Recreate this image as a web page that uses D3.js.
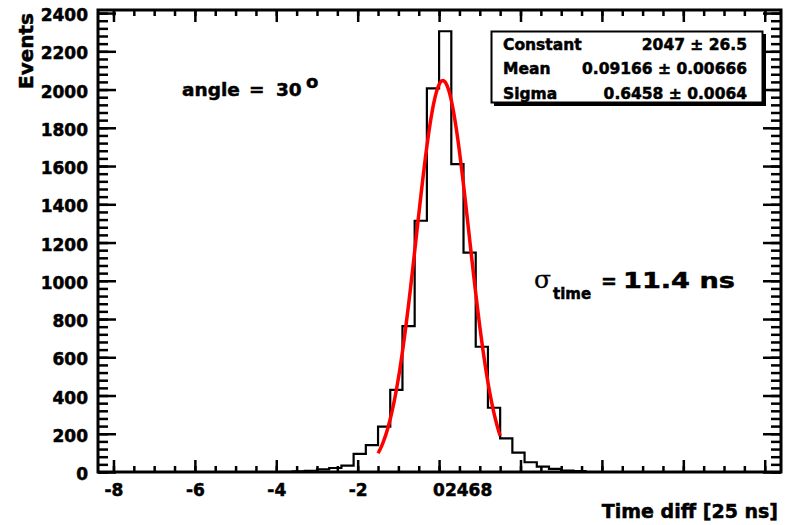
<!DOCTYPE html>
<html>
<head>
<meta charset="utf-8">
<script src="https://cdn.jsdelivr.net/npm/d3@7"></script>
<style>
body { margin: 0; background: #fff; }
svg text { font-family: "DejaVu Sans", sans-serif; font-weight: bold; fill: #000; stroke: #000; stroke-width: 0.5px; }
</style>
</head>
<body>
<script>
// histogram: bins of 0.3 starting at -3.9
var binStart = -3.9, binWidth = 0.3;
var counts = [1, 3, 6, 14, 21, 33, 95, 141, 237, 429, 763, 1314, 2006, 2305,
              1610, 1147, 655, 336, 176, 101, 51, 28, 16, 7, 5];

var xMajor = [-8, -6, -4, -2, 0, 2, 4, 6, 8];
var xMinor = d3.range(-8, 8.01, 0.5);
var yMajor = [0, 200, 400, 600, 800, 1000, 1200, 1400, 1600, 1800, 2000, 2200, 2400];
var yMinor = d3.range(0, 2401, 40);

// gaus fit, values from the stat box
var fitNames = ["Constant", "Mean", "Sigma"];
var fitValues = [2047, 0.09166, 0.6458];
var fitLabels = ["2047", "0.09166", "0.6458"];
var fitErrors = ["26.5", "0.00666", "0.0064"];
var fitRange = [-1.5, 1.5];

var main = function() {
  var width = 791, height = 525;
  var svg = d3.select("body").append("svg")
    .attr("width", width)
    .attr("height", height);

  var x = d3.scaleLinear().domain([-8.38, 8.4]).range([98, 781]);
  var y = d3.scaleLinear().domain([0, 2416]).range([472, 10]);

  var styleAxis = function(g, size) {
    g.attr("font-family", null).attr("font-size", size);
    g.select(".domain").remove();
    g.selectAll("line").attr("stroke-width", 2.5);
  }

  // minor ticks on all four sides
  svg.append("g").attr("transform", "translate(98,0)")
    .call(d3.axisLeft(y).tickValues(yMinor).tickSize(-10).tickFormat(""))
    .call(styleAxis, 17);
  svg.append("g").attr("transform", "translate(781,0)")
    .call(d3.axisRight(y).tickValues(yMinor).tickSize(-10).tickFormat(""))
    .call(styleAxis, 17);
  svg.append("g").attr("transform", "translate(0,472)")
    .call(d3.axisBottom(x).tickValues(xMinor).tickSize(-6).tickFormat(""))
    .call(styleAxis, 17);
  svg.append("g").attr("transform", "translate(0,10)")
    .call(d3.axisTop(x).tickValues(xMinor).tickSize(-6).tickFormat(""))
    .call(styleAxis, 17);

  // major ticks
  var yAxis = svg.append("g").attr("transform", "translate(98,0)")
    .call(d3.axisLeft(y).tickValues(yMajor).tickSize(-18).tickPadding(10)
      .tickFormat(function(d) { return String(d); }))
    .call(styleAxis, 17);
  yAxis.selectAll("text").attr("dy", "0.45em");

  svg.append("g").attr("transform", "translate(781,0)")
    .call(d3.axisRight(y).tickValues(yMajor).tickSize(-18).tickFormat(""))
    .call(styleAxis, 17);

  svg.append("g").attr("transform", "translate(0,472)")
    .call(d3.axisBottom(x).tickValues(xMajor).tickSize(-12).tickPadding(12)
      .tickFormat(function(d) { return d < 0 ? String(d) : ""; }))
    .call(styleAxis, 17);

  svg.append("g").attr("transform", "translate(0,10)")
    .call(d3.axisTop(x).tickValues(xMajor).tickSize(-12).tickFormat(""))
    .call(styleAxis, 17);

  // positive labels come out squashed together in the original
  svg.append("text")
    .attr("x", x(0) - 6)
    .attr("y", 496)
    .attr("font-size", 17)
    .text(xMajor.filter(function(d) { return d >= 0; }).join(""));

  // frame
  svg.append("rect")
    .attr("x", x.range()[0]).attr("y", y.range()[1])
    .attr("width", x.range()[1] - x.range()[0])
    .attr("height", y.range()[0] - y.range()[1])
    .attr("fill", "none").attr("stroke", "#000").attr("stroke-width", 3);

  // histogram outline
  var pts = [[x(binStart), y(0)]];
  counts.forEach(function(c, i) {
    var x0 = binStart + i * binWidth, x1 = x0 + binWidth;
    pts.push([x(x0), y(c)]);
    pts.push([x(x1), y(c)]);
  });
  pts.push([x(binStart + counts.length * binWidth), y(0)]);
  svg.append("path")
    .attr("d", d3.line()(pts))
    .attr("fill", "none").attr("stroke", "#000").attr("stroke-width", 2.2);

  // fitted gaussian
  var gaus = function(v) {
    var t = (v - fitValues[1]) / fitValues[2];
    return fitValues[0] * Math.exp(-0.5 * t * t);
  }
  var fx = d3.range(fitRange[0], fitRange[1] + 0.001, 0.02);
  svg.append("path")
    .datum(fx)
    .attr("d", d3.line().x(function(d) { return x(d); }).y(function(d) { return y(gaus(d)); }))
    .attr("fill", "none").attr("stroke", "#ff0000").attr("stroke-width", 3.5);

  // stat box
  svg.append("rect").attr("x", 494).attr("y", 34).attr("width", 272).attr("height", 72).attr("fill", "#000");
  svg.append("rect").attr("x", 491.5).attr("y", 31.5).attr("width", 271).attr("height", 71)
    .attr("fill", "#fff").attr("stroke", "#000").attr("stroke-width", 2);
  fitNames.forEach(function(n, i) {
    var by = 50 + i * 24.3;
    svg.append("text").attr("x", 503).attr("y", by).attr("font-size", 15.5).text(n);
    svg.append("text").attr("x", 747).attr("y", by).attr("font-size", 15.5)
      .attr("text-anchor", "end").text(fitLabels[i] + " \u00b1 " + fitErrors[i]);
  });

  // axis titles
  svg.append("text")
    .attr("x", 778).attr("y", 518)
    .attr("text-anchor", "end").attr("font-size", 19)
    .text("Time diff [25 ns]");
  svg.append("text")
    .attr("transform", "translate(33,13) rotate(-90)")
    .attr("text-anchor", "end").attr("font-size", 20)
    .text("Events");

  // annotations
  var a = svg.append("text").attr("y", 96).attr("font-size", 18.5);
  a.append("tspan").attr("x", 182).text("angle");
  a.append("tspan").attr("x", 249).text("=");
  a.append("tspan").attr("x", 276).text("30");
  a.append("tspan").attr("x", 306).attr("y", 88).attr("font-size", 18).text("o");

  var s = svg.append("g");
  s.append("text").attr("x", 534).attr("y", 288)
    .style("font-family", "'DejaVu Serif', serif").style("font-weight", "normal")
    .style("stroke-width", "0.3px")
    .attr("font-size", 25).text("\u03c3");
  s.append("text").attr("x", 553).attr("y", 299).attr("font-size", 15).text("time");
  s.append("text").attr("x", 601).attr("y", 288).attr("font-size", 19).text("=");
  s.append("text").attr("x", 623).attr("y", 288).attr("font-size", 22)
    .attr("textLength", 112).attr("lengthAdjust", "spacingAndGlyphs").text("11.4 ns");
}

main();
</script>
</body>
</html>
